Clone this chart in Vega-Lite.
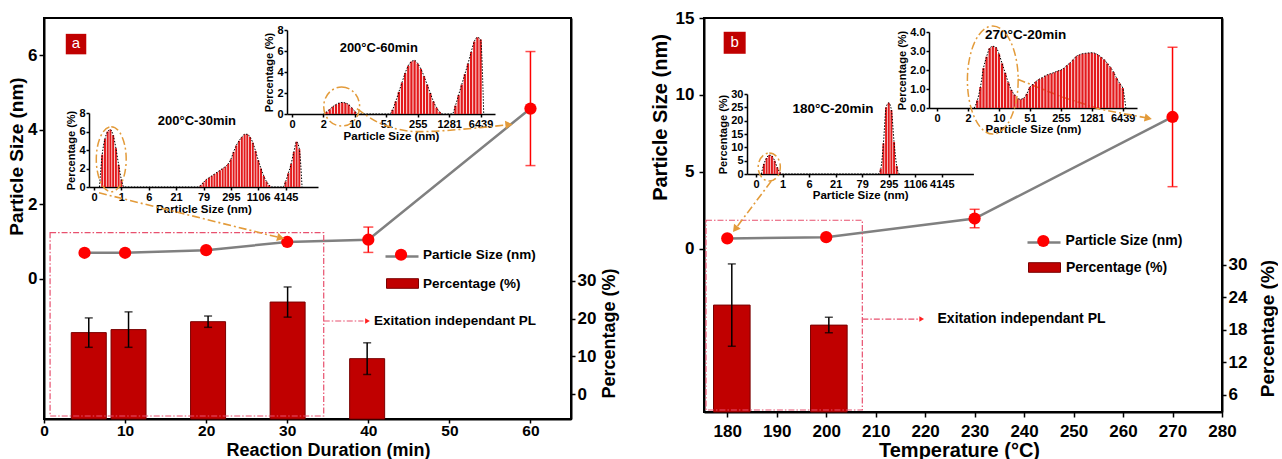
{
  "$schema": "https://vega.github.io/schema/vega-lite/v6.json",
  "background": "white",
  "padding": {"left": 6, "top": 8, "right": 0, "bottom": 0},
  "spacing": 133,
  "bounds": "flush",
  "config": {
    "font": "Liberation Sans",
    "view": {"stroke": "black", "strokeWidth": 2},
    "axis": {
      "labelFont": "Liberation Sans", "titleFont": "Liberation Sans",
      "labelFontWeight": "bold", "titleFontWeight": "bold",
      "labelColor": "black", "titleColor": "black",
      "domainColor": "black", "tickColor": "black",
      "domainWidth": 2, "tickWidth": 1.5, "grid": false,
      "labelFlush": false, "labelOverlap": false
    },
    "legend": {
      "labelFont": "Liberation Sans", "labelFontWeight": "bold", "labelColor": "black",
      "padding": 0, "orient": "none"
    },
    "text": {"font": "Liberation Sans"}
  },
  "resolve": {"scale": {"color": "independent", "fill": "independent", "stroke": "independent"}},
  "datasets": {
    "timeSize": [
      {"time": 5, "size": 0.70, "err": 0.04},
      {"time": 10, "size": 0.70, "err": 0.04},
      {"time": 20, "size": 0.77, "err": 0.04},
      {"time": 30, "size": 0.99, "err": 0.05},
      {"time": 40, "size": 1.05, "err": 0.34},
      {"time": 60, "size": 4.57, "err": 1.53}
    ],
    "timePct": [
      {"time": 5, "pct": 16.3, "err": 3.9},
      {"time": 10, "pct": 17.1, "err": 4.7},
      {"time": 20, "pct": 19.2, "err": 1.5},
      {"time": 30, "pct": 24.4, "err": 4.0},
      {"time": 40, "pct": 9.4, "err": 4.2}
    ],
    "tempSize": [
      {"temp": 180, "size": 0.68, "err": 0.05},
      {"temp": 200, "size": 0.76, "err": 0.05},
      {"temp": 230, "size": 1.97, "err": 0.6},
      {"temp": 270, "size": 8.57, "err": 4.53}
    ],
    "tempPct": [
      {"temp": 180, "pct": 22.6, "err": 7.6},
      {"temp": 200, "pct": 18.9, "err": 1.43}
    ],
    "arrowsA": [
      {"path": "30min", "step": 1, "time": 6.78, "size": 2.31},
      {"path": "30min", "step": 2, "time": 29.2, "size": 1.10},
      {"path": "60min", "step": 1, "time": 38.6, "size": 4.57},
      {"path": "60min", "step": 2, "time": 41.3, "size": 4.19},
      {"path": "60min", "step": 3, "time": 46.25, "size": 3.95},
      {"path": "60min", "step": 4, "time": 52.4, "size": 4.03},
      {"path": "60min", "step": 5, "time": 57.35, "size": 4.14}
    ],
    "arrowsB": [
      {"path": "180C", "step": 1, "temp": 188.9, "size": 4.40},
      {"path": "180C", "step": 2, "temp": 181.6, "size": 1.28},
      {"path": "270C", "step": 1, "temp": 238.7, "size": 11.02},
      {"path": "270C", "step": 2, "temp": 247.25, "size": 9.92},
      {"path": "270C", "step": 3, "temp": 255.4, "size": 9.07},
      {"path": "270C", "step": 4, "temp": 265.1, "size": 8.49}
    ],
    "dls30": [
      {"bin": 0.2, "pct": 0}, {"bin": 0.3, "pct": 3.5}, {"bin": 0.4, "pct": 5.2}, {"bin": 0.5, "pct": 6.0},
      {"bin": 0.6, "pct": 6.2}, {"bin": 0.7, "pct": 5.6}, {"bin": 0.8, "pct": 4.2}, {"bin": 0.9, "pct": 2.4},
      {"bin": 1.0, "pct": 0.8}, {"bin": 1.1, "pct": 0},
      {"bin": 3.8, "pct": 0}, {"bin": 3.9, "pct": 0.2}, {"bin": 4.0, "pct": 0.5}, {"bin": 4.1, "pct": 0.8},
      {"bin": 4.2, "pct": 1.0}, {"bin": 4.3, "pct": 1.2}, {"bin": 4.4, "pct": 1.4}, {"bin": 4.5, "pct": 1.6},
      {"bin": 4.6, "pct": 1.8}, {"bin": 4.7, "pct": 2.0}, {"bin": 4.8, "pct": 2.2}, {"bin": 4.9, "pct": 2.5},
      {"bin": 5.0, "pct": 3.0}, {"bin": 5.1, "pct": 3.8}, {"bin": 5.2, "pct": 4.5}, {"bin": 5.3, "pct": 5.0},
      {"bin": 5.4, "pct": 5.4}, {"bin": 5.5, "pct": 5.7}, {"bin": 5.6, "pct": 5.7}, {"bin": 5.7, "pct": 5.4},
      {"bin": 5.8, "pct": 4.8}, {"bin": 5.9, "pct": 3.9}, {"bin": 6.0, "pct": 2.9}, {"bin": 6.1, "pct": 2.0},
      {"bin": 6.2, "pct": 1.2}, {"bin": 6.3, "pct": 0.6}, {"bin": 6.4, "pct": 0.2}, {"bin": 6.5, "pct": 0},
      {"bin": 6.9, "pct": 0}, {"bin": 7.0, "pct": 0.6}, {"bin": 7.1, "pct": 1.5}, {"bin": 7.2, "pct": 2.5},
      {"bin": 7.3, "pct": 3.8}, {"bin": 7.4, "pct": 4.9}, {"bin": 7.5, "pct": 4.1}, {"bin": 7.6, "pct": 0}
    ],
    "dls60": [
      {"bin": 1.0, "pct": 0}, {"bin": 1.1, "pct": 0.2}, {"bin": 1.2, "pct": 0.45}, {"bin": 1.3, "pct": 0.7},
      {"bin": 1.4, "pct": 0.9}, {"bin": 1.5, "pct": 1.05}, {"bin": 1.6, "pct": 1.1}, {"bin": 1.7, "pct": 1.05},
      {"bin": 1.8, "pct": 0.9}, {"bin": 1.9, "pct": 0.6}, {"bin": 2.0, "pct": 0.25}, {"bin": 2.1, "pct": 0},
      {"bin": 3.1, "pct": 0}, {"bin": 3.2, "pct": 0.4}, {"bin": 3.3, "pct": 1.2}, {"bin": 3.4, "pct": 2.1},
      {"bin": 3.5, "pct": 3.0}, {"bin": 3.6, "pct": 3.9}, {"bin": 3.7, "pct": 4.6}, {"bin": 3.8, "pct": 5.0},
      {"bin": 3.9, "pct": 5.1}, {"bin": 4.0, "pct": 4.8}, {"bin": 4.1, "pct": 4.3}, {"bin": 4.2, "pct": 3.6},
      {"bin": 4.3, "pct": 2.8}, {"bin": 4.4, "pct": 2.0}, {"bin": 4.5, "pct": 1.2}, {"bin": 4.6, "pct": 0.6},
      {"bin": 4.7, "pct": 0.2}, {"bin": 4.8, "pct": 0},
      {"bin": 5.1, "pct": 0}, {"bin": 5.2, "pct": 0.8}, {"bin": 5.3, "pct": 1.8}, {"bin": 5.4, "pct": 2.8},
      {"bin": 5.5, "pct": 3.8}, {"bin": 5.6, "pct": 4.8}, {"bin": 5.7, "pct": 5.9}, {"bin": 5.8, "pct": 6.9},
      {"bin": 5.9, "pct": 7.3}, {"bin": 6.0, "pct": 7.1}, {"bin": 6.1, "pct": 0}
    ],
    "dls180": [
      {"bin": 0.2, "pct": 0}, {"bin": 0.3, "pct": 3.8}, {"bin": 0.4, "pct": 6.0}, {"bin": 0.5, "pct": 7.1},
      {"bin": 0.6, "pct": 6.8}, {"bin": 0.7, "pct": 5.0}, {"bin": 0.8, "pct": 2.5}, {"bin": 0.9, "pct": 0.6},
      {"bin": 1.0, "pct": 0},
      {"bin": 4.6, "pct": 0}, {"bin": 4.7, "pct": 2.0}, {"bin": 4.8, "pct": 11.5}, {"bin": 4.9, "pct": 25.0},
      {"bin": 5.0, "pct": 26.7}, {"bin": 5.1, "pct": 24.0}, {"bin": 5.2, "pct": 12.0}, {"bin": 5.3, "pct": 3.0},
      {"bin": 5.4, "pct": 0}
    ],
    "dls270": [
      {"bin": 1.2, "pct": 0}, {"bin": 1.3, "pct": 0.4}, {"bin": 1.4, "pct": 1.1}, {"bin": 1.5, "pct": 2.1},
      {"bin": 1.6, "pct": 2.7}, {"bin": 1.7, "pct": 3.15}, {"bin": 1.8, "pct": 3.25}, {"bin": 1.9, "pct": 3.2},
      {"bin": 2.0, "pct": 2.85}, {"bin": 2.1, "pct": 2.35}, {"bin": 2.2, "pct": 1.85}, {"bin": 2.3, "pct": 1.35},
      {"bin": 2.4, "pct": 0.95}, {"bin": 2.5, "pct": 0.7}, {"bin": 2.6, "pct": 0.5}, {"bin": 2.7, "pct": 0.46},
      {"bin": 2.8, "pct": 0.52}, {"bin": 2.9, "pct": 0.75}, {"bin": 3.0, "pct": 1.1}, {"bin": 3.1, "pct": 1.25},
      {"bin": 3.2, "pct": 1.4}, {"bin": 3.3, "pct": 1.52}, {"bin": 3.4, "pct": 1.6}, {"bin": 3.5, "pct": 1.7},
      {"bin": 3.6, "pct": 1.77}, {"bin": 3.7, "pct": 1.82}, {"bin": 3.8, "pct": 1.88}, {"bin": 3.9, "pct": 1.95},
      {"bin": 4.0, "pct": 2.0}, {"bin": 4.1, "pct": 2.1}, {"bin": 4.2, "pct": 2.25}, {"bin": 4.3, "pct": 2.38},
      {"bin": 4.4, "pct": 2.55}, {"bin": 4.5, "pct": 2.72}, {"bin": 4.6, "pct": 2.8}, {"bin": 4.7, "pct": 2.86},
      {"bin": 4.8, "pct": 2.88}, {"bin": 4.9, "pct": 2.9}, {"bin": 5.0, "pct": 2.91}, {"bin": 5.1, "pct": 2.88},
      {"bin": 5.2, "pct": 2.8}, {"bin": 5.3, "pct": 2.68}, {"bin": 5.4, "pct": 2.55}, {"bin": 5.5, "pct": 2.35},
      {"bin": 5.6, "pct": 2.15}, {"bin": 5.7, "pct": 1.9}, {"bin": 5.8, "pct": 1.58}, {"bin": 5.9, "pct": 1.3},
      {"bin": 6.0, "pct": 1.05}, {"bin": 6.1, "pct": 0}
    ]
  },
  "hconcat": [
    {
      "width": 527,
      "height": 401,
      "resolve": {"scale": {"x": "independent", "y": "independent"}},
      "layer": [
        {
          "data": {"name": "timePct"},
          "layer": [
            {
              "mark": {"type": "bar", "size": 35, "stroke": "#7a0000", "strokeWidth": 1},
              "encoding": {
                "x": {"field": "time", "type": "quantitative", "title": "Reaction Duration (min)", "scale": {"domain": [0, 65], "nice": false, "zero": false}, "axis": null},
                "y": {"field": "pct", "type": "quantitative", "title": "Percentage (%)", "scale": {"domain": [-6.6, 99.7], "nice": false, "zero": false},
                  "axis": {"orient": "right", "values": [0, 10, 20, 30], "labelFontSize": 17, "titleFontSize": 18, "tickSize": 4, "labelPadding": 2, "titleX": 38, "titleY": 315, "titleAngle": 270, "titleBaseline": "middle", "titleAlign": "center"}},
                "y2": {"datum": -6.6},
                "fill": {"datum": "Percentage (%)", "type": "nominal", "scale": {"range": ["#C00000"]},
                  "legend": {"title": null, "legendX": 342, "legendY": 249, "symbolType": "M-1,-0.3H1V0.3H-1Z", "symbolSize": 1024, "symbolStrokeColor": "#7a0000", "symbolStrokeWidth": 1, "labelFontSize": 13.5, "labelOffset": 4}}
              }
            },
            {
              "mark": {"type": "errorbar", "color": "black", "thickness": 1.5, "ticks": {"size": 8}},
              "encoding": {
                "x": {"field": "time", "type": "quantitative", "title": "Reaction Duration (min)"},
                "y": {"field": "pct", "type": "quantitative", "title": "Percentage (%)"},
                "yError": {"field": "err"}
              }
            }
          ]
        },
        {
          "data": {"name": "timeSize"},
          "layer": [
            {
              "mark": {"type": "line", "strokeWidth": 2.5},
              "encoding": {
                "x": {"field": "time", "type": "quantitative", "title": "Reaction Duration (min)", "scale": {"domain": [0, 65], "nice": false, "zero": false},
                  "axis": {"orient": "bottom", "values": [0, 10, 20, 30, 40, 50, 60], "labelFontSize": 15.5, "titleFontSize": 18, "tickSize": 4, "labelPadding": 0, "titleX": 284, "titleY": 31, "titleBaseline": "middle", "titleAlign": "center"}},
                "y": {"field": "size", "type": "quantitative", "title": "Particle Size (nm)", "scale": {"domain": [-3.76, 7], "nice": false, "zero": false},
                  "axis": {"orient": "left", "values": [0, 2, 4, 6], "labelFontSize": 17, "titleFontSize": 19, "tickSize": 5, "labelPadding": 2, "titleX": -28, "titleY": 138, "titleAngle": 270, "titleBaseline": "middle", "titleAlign": "center"}},
                "stroke": {"datum": "trend", "type": "nominal", "scale": {"range": ["#808080"]},
                  "legend": {"title": null, "legendX": 340, "legendY": 220.5, "symbolType": "stroke", "symbolSize": 1089, "symbolStrokeWidth": 2.5, "labelExpr": "''", "labelFontSize": 13.5}}
              }
            },
            {
              "data": {"values": [{}]},
              "mark": {"type": "rect", "fill": "transparent", "stroke": "#E8506E", "strokeWidth": 1.2, "strokeDash": [6, 2, 1.5, 2]},
              "encoding": {
                "x": {"datum": 0.75, "type": "quantitative"}, "x2": {"datum": 34.5},
                "y": {"datum": -3.68, "type": "quantitative"}, "y2": {"datum": 1.24}
              }
            },
            {
              "mark": {"type": "errorbar", "color": "#FF0000", "thickness": 1.5, "ticks": {"size": 10}},
              "encoding": {
                "x": {"field": "time", "type": "quantitative", "title": "Reaction Duration (min)"},
                "y": {"field": "size", "type": "quantitative", "title": "Particle Size (nm)"},
                "yError": {"field": "err"}
              }
            },
            {
              "mark": {"type": "circle", "size": 150, "opacity": 1},
              "encoding": {
                "x": {"field": "time", "type": "quantitative", "title": "Reaction Duration (min)"},
                "y": {"field": "size", "type": "quantitative", "title": "Particle Size (nm)"},
                "color": {"datum": "Particle Size (nm)", "type": "nominal", "scale": {"range": ["#FF0000"]},
                  "legend": {"title": null, "legendX": 350.3, "legendY": 230, "symbolType": "circle", "symbolSize": 150, "symbolOpacity": 1, "symbolStrokeWidth": 0, "labelFontSize": 13.5, "labelOffset": 15.3}}
              }
            },
            {
              "data": {"values": [{}]},
              "mark": {"type": "rule", "stroke": "#E8506E", "strokeWidth": 1.2, "strokeDash": [6, 2, 1.5, 2]},
              "encoding": {
                "x": {"datum": 34.5, "type": "quantitative"}, "x2": {"datum": 39.4},
                "y": {"datum": -1.13, "type": "quantitative"}
              }
            },
            {
              "data": {"values": [{}]},
              "mark": {"type": "point", "shape": "triangle-right", "size": 30, "filled": true, "fill": "#FF2020", "opacity": 1},
              "encoding": {"x": {"datum": 39.9, "type": "quantitative"}, "y": {"datum": -1.13, "type": "quantitative"}}
            },
            {
              "data": {"values": [{"note": "Exitation independant PL"}]},
              "mark": {"type": "text", "align": "left", "baseline": "middle", "fontSize": 13.5, "fontWeight": "bold", "color": "black"},
              "encoding": {"x": {"datum": 40.7, "type": "quantitative"}, "y": {"datum": -1.13, "type": "quantitative"}, "text": {"field": "note"}}
            },
            {
              "data": {"values": [{"panel": "a"}]},
              "layer": [
                {
                  "mark": {"type": "point", "shape": "square", "size": 420, "filled": true, "fill": "#C00000", "opacity": 1},
                  "encoding": {"x": {"datum": 3.95, "type": "quantitative"}, "y": {"datum": 6.30, "type": "quantitative"}}
                },
                {
                  "mark": {"type": "text", "fontSize": 15, "color": "white", "baseline": "middle", "align": "center", "dy": -1},
                  "encoding": {"x": {"datum": 3.95, "type": "quantitative"}, "y": {"datum": 6.30, "type": "quantitative"}, "text": {"field": "panel"}}
                }
              ]
            },
            {
              "data": {"name": "arrowsA"},
              "mark": {"type": "line", "stroke": "#E39B3A", "strokeWidth": 1.6, "strokeDash": [8, 3, 2, 3], "interpolate": "monotone"},
              "encoding": {
                "x": {"field": "time", "type": "quantitative", "title": "Reaction Duration (min)"},
                "y": {"field": "size", "type": "quantitative", "title": "Particle Size (nm)"},
                "detail": {"field": "path"},
                "order": {"field": "step"}
              }
            },
            {
              "data": {"values": [{}]},
              "mark": {"type": "point", "shape": "triangle-right", "size": 70, "filled": true, "fill": "#E39B3A", "opacity": 1, "angle": 14},
              "encoding": {"x": {"datum": 29.2, "type": "quantitative"}, "y": {"datum": 1.10, "type": "quantitative"}}
            },
            {
              "data": {"values": [{}]},
              "mark": {"type": "point", "shape": "triangle-right", "size": 70, "filled": true, "fill": "#E39B3A", "opacity": 1, "angle": -6},
              "encoding": {"x": {"datum": 57.35, "type": "quantitative"}, "y": {"datum": 4.14, "type": "quantitative"}}
            }
          ]
        },
        {
          "data": {"name": "dls30"},
          "layer": [
            {
              "mark": {"type": "bar", "size": 2, "fill": "#E31A1C"},
              "encoding": {
                "x": {"field": "bin", "type": "quantitative", "title": "Particle Size (nm)", "scale": {"domain": [0, 8], "range": [45, 274], "nice": false, "zero": false},
                  "axis": {"orient": "bottom", "offset": -232, "values": [0, 1, 2, 3, 4, 5, 6, 7], "labelExpr": "['0','1','6','21','79','295','1106','4145'][datum.value]", "labelFontSize": 11, "titleFontSize": 11.5, "tickSize": 3, "domainWidth": 1.5, "labelPadding": 1, "titlePadding": 1}},
                "y": {"field": "pct", "type": "quantitative", "title": "Percentage (%)", "scale": {"domain": [0, 8], "range": [169, 95], "nice": false},
                  "axis": {"orient": "left", "offset": -45, "values": [0, 2, 4, 6, 8], "labelFontSize": 11, "titleFontSize": 11, "tickSize": 3, "domainWidth": 1.5, "labelPadding": 1, "titlePadding": 2}}
              }
            },
            {
              "mark": {"type": "line", "stroke": "black", "strokeWidth": 1, "strokeDash": [1.5, 1.5], "interpolate": "monotone"},
              "encoding": {"x": {"field": "bin", "type": "quantitative", "title": "Particle Size (nm)"}, "y": {"field": "pct", "type": "quantitative", "title": "Percentage (%)"}}
            },
            {
              "data": {"values": [{"label": "200°C-30min"}]},
              "mark": {"type": "text", "fontSize": 13, "fontWeight": "bold", "color": "black", "baseline": "middle"},
              "encoding": {"x": {"datum": 3.76, "type": "quantitative"}, "y": {"datum": 7.14, "type": "quantitative"}, "text": {"field": "label"}}
            },
            {
              "data": {"values": [{}]},
              "mark": {"type": "point", "shape": "M0,-1A0.46,1,0,1,1,0,1A0.46,1,0,1,1,0,-1Z", "size": 4225, "filled": false, "stroke": "#E39B3A", "strokeWidth": 1.5, "strokeDash": [8, 3, 2, 3], "opacity": 1},
              "encoding": {"x": {"datum": 0.63, "type": "quantitative"}, "y": {"datum": 3.0, "type": "quantitative"}}
            }
          ]
        },
        {
          "data": {"name": "dls60"},
          "layer": [
            {
              "mark": {"type": "bar", "size": 2.3, "fill": "#E31A1C"},
              "encoding": {
                "x": {"field": "bin", "type": "quantitative", "title": "Particle Size (nm)", "scale": {"domain": [0, 6.3], "range": [243, 451], "nice": false, "zero": false},
                  "axis": {"orient": "bottom", "offset": -305, "values": [0, 1, 2, 3, 4, 5, 6], "labelExpr": "['0','2','10','51','255','1281','6439'][datum.value]", "labelFontSize": 11, "titleFontSize": 11.5, "tickSize": 3, "domainWidth": 1.5, "labelPadding": 1, "titlePadding": 1}},
                "y": {"field": "pct", "type": "quantitative", "title": "Percentage (%)", "scale": {"domain": [0, 8], "range": [96, 12], "nice": false},
                  "axis": {"orient": "left", "offset": -243, "values": [0, 2, 4, 6, 8], "labelFontSize": 11, "titleFontSize": 11, "tickSize": 3, "domainWidth": 1.5, "labelPadding": 1, "titlePadding": 2}}
              }
            },
            {
              "mark": {"type": "line", "stroke": "black", "strokeWidth": 1, "strokeDash": [1.5, 1.5], "interpolate": "monotone"},
              "encoding": {"x": {"field": "bin", "type": "quantitative", "title": "Particle Size (nm)"}, "y": {"field": "pct", "type": "quantitative", "title": "Percentage (%)"}}
            },
            {
              "data": {"values": [{"label": "200°C-60min"}]},
              "mark": {"type": "text", "fontSize": 13, "fontWeight": "bold", "color": "black", "baseline": "middle"},
              "encoding": {"x": {"datum": 2.76, "type": "quantitative"}, "y": {"datum": 6.29, "type": "quantitative"}, "text": {"field": "label"}}
            },
            {
              "data": {"values": [{}]},
              "mark": {"type": "point", "shape": "M0,-1A0.92,1,0,1,1,0,1A0.92,1,0,1,1,0,-1Z", "size": 1521, "filled": false, "stroke": "#E39B3A", "strokeWidth": 1.5, "strokeDash": [8, 3, 2, 3], "opacity": 1},
              "encoding": {"x": {"datum": 1.58, "type": "quantitative"}, "y": {"datum": 0.71, "type": "quantitative"}}
            }
          ]
        }
      ]
    },
    {
      "width": 518,
      "height": 394,
      "resolve": {"scale": {"x": "independent", "y": "independent"}},
      "layer": [
        {
          "data": {"name": "tempPct"},
          "layer": [
            {
              "mark": {"type": "bar", "size": 36.6, "stroke": "#7a0000", "strokeWidth": 1},
              "encoding": {
                "x": {"field": "temp", "type": "quantitative", "title": "Temperature (°C)", "scale": {"domain": [175.3, 280], "nice": false, "zero": false}, "axis": null},
                "y": {"field": "pct", "type": "quantitative", "title": "Percentage (%)", "scale": {"domain": [2.86, 75.6], "nice": false, "zero": false},
                  "axis": {"orient": "right", "values": [6, 12, 18, 24, 30], "labelFontSize": 17, "titleFontSize": 19, "tickSize": 4, "labelPadding": 2, "titleX": 45, "titleY": 310, "titleAngle": 270, "titleBaseline": "middle", "titleAlign": "center"}},
                "y2": {"datum": 2.86},
                "fill": {"datum": "Percentage (%)", "type": "nominal", "scale": {"range": ["#C00000"]},
                  "legend": {"title": null, "legendX": 324, "legendY": 233, "symbolType": "M-1,-0.3H1V0.3H-1Z", "symbolSize": 1024, "symbolStrokeColor": "#7a0000", "symbolStrokeWidth": 1, "labelFontSize": 14, "labelOffset": 5}}
              }
            },
            {
              "mark": {"type": "errorbar", "color": "black", "thickness": 1.5, "ticks": {"size": 8}},
              "encoding": {
                "x": {"field": "temp", "type": "quantitative", "title": "Temperature (°C)"},
                "y": {"field": "pct", "type": "quantitative", "title": "Percentage (%)"},
                "yError": {"field": "err"}
              }
            }
          ]
        },
        {
          "data": {"name": "tempSize"},
          "layer": [
            {
              "mark": {"type": "line", "strokeWidth": 2.5},
              "encoding": {
                "x": {"field": "temp", "type": "quantitative", "title": "Temperature (°C)", "scale": {"domain": [175.3, 280], "nice": false, "zero": false},
                  "axis": {"orient": "bottom", "values": [180, 190, 200, 210, 220, 230, 240, 250, 260, 270, 280], "labelFontSize": 17, "titleFontSize": 20, "tickSize": 5, "labelPadding": 6, "titleX": 255, "titleY": 38, "titleBaseline": "middle", "titleAlign": "center"}},
                "y": {"field": "size", "type": "quantitative", "title": "Particle Size (nm)", "scale": {"domain": [-10.6, 15], "nice": false, "zero": false},
                  "axis": {"orient": "left", "values": [0, 5, 10, 15], "labelFontSize": 17, "titleFontSize": 20, "tickSize": 5, "labelPadding": 5, "titleX": -44, "titleY": 99, "titleAngle": 270, "titleBaseline": "middle", "titleAlign": "center"}},
                "stroke": {"datum": "trend", "type": "nominal", "scale": {"range": ["#808080"]},
                  "legend": {"title": null, "legendX": 322, "legendY": 206.5, "symbolType": "stroke", "symbolSize": 1089, "symbolStrokeWidth": 2.5, "labelExpr": "''", "labelFontSize": 14}}
              }
            },
            {
              "data": {"values": [{}]},
              "mark": {"type": "rect", "fill": "transparent", "stroke": "#E8506E", "strokeWidth": 1.2, "strokeDash": [6, 2, 1.5, 2]},
              "encoding": {
                "x": {"datum": 175.7, "type": "quantitative"}, "x2": {"datum": 207.3},
                "y": {"datum": -10.47, "type": "quantitative"}, "y2": {"datum": 1.86}
              }
            },
            {
              "mark": {"type": "errorbar", "color": "#FF0000", "thickness": 1.5, "ticks": {"size": 10}},
              "encoding": {
                "x": {"field": "temp", "type": "quantitative", "title": "Temperature (°C)"},
                "y": {"field": "size", "type": "quantitative", "title": "Particle Size (nm)"},
                "yError": {"field": "err"}
              }
            },
            {
              "mark": {"type": "circle", "size": 150, "opacity": 1},
              "encoding": {
                "x": {"field": "temp", "type": "quantitative", "title": "Temperature (°C)"},
                "y": {"field": "size", "type": "quantitative", "title": "Particle Size (nm)"},
                "color": {"datum": "Particle Size (nm)", "type": "nominal", "scale": {"range": ["#FF0000"]},
                  "legend": {"title": null, "legendX": 332.3, "legendY": 216, "symbolType": "circle", "symbolSize": 150, "symbolOpacity": 1, "symbolStrokeWidth": 0, "labelFontSize": 14, "labelOffset": 15.3}}
              }
            },
            {
              "data": {"values": [{}]},
              "mark": {"type": "rule", "stroke": "#E8506E", "strokeWidth": 1.2, "strokeDash": [6, 2, 1.5, 2]},
              "encoding": {
                "x": {"datum": 207.3, "type": "quantitative"}, "x2": {"datum": 218.6},
                "y": {"datum": -4.56, "type": "quantitative"}
              }
            },
            {
              "data": {"values": [{}]},
              "mark": {"type": "point", "shape": "triangle-right", "size": 30, "filled": true, "fill": "#FF2020", "opacity": 1},
              "encoding": {"x": {"datum": 219.3, "type": "quantitative"}, "y": {"datum": -4.56, "type": "quantitative"}}
            },
            {
              "data": {"values": [{"note": "Exitation independant PL"}]},
              "mark": {"type": "text", "align": "left", "baseline": "middle", "fontSize": 14, "fontWeight": "bold", "color": "black"},
              "encoding": {"x": {"datum": 222.5, "type": "quantitative"}, "y": {"datum": -4.56, "type": "quantitative"}, "text": {"field": "note"}}
            },
            {
              "data": {"values": [{"panel": "b"}]},
              "layer": [
                {
                  "mark": {"type": "point", "shape": "square", "size": 484, "filled": true, "fill": "#C00000", "opacity": 1},
                  "encoding": {"x": {"datum": 181.5, "type": "quantitative"}, "y": {"datum": 13.39, "type": "quantitative"}}
                },
                {
                  "mark": {"type": "text", "fontSize": 15, "color": "white", "baseline": "middle", "align": "center", "dy": -1},
                  "encoding": {"x": {"datum": 181.5, "type": "quantitative"}, "y": {"datum": 13.39, "type": "quantitative"}, "text": {"field": "panel"}}
                }
              ]
            },
            {
              "data": {"name": "arrowsB"},
              "mark": {"type": "line", "stroke": "#E39B3A", "strokeWidth": 1.6, "strokeDash": [8, 3, 2, 3], "interpolate": "linear"},
              "encoding": {
                "x": {"field": "temp", "type": "quantitative", "title": "Temperature (°C)"},
                "y": {"field": "size", "type": "quantitative", "title": "Particle Size (nm)"},
                "detail": {"field": "path"},
                "order": {"field": "step"}
              }
            },
            {
              "data": {"values": [{}]},
              "mark": {"type": "point", "shape": "triangle-right", "size": 70, "filled": true, "fill": "#E39B3A", "opacity": 1, "angle": 127},
              "encoding": {"x": {"datum": 181.6, "type": "quantitative"}, "y": {"datum": 1.28, "type": "quantitative"}}
            },
            {
              "data": {"values": [{}]},
              "mark": {"type": "point", "shape": "triangle-right", "size": 70, "filled": true, "fill": "#E39B3A", "opacity": 1, "angle": 11},
              "encoding": {"x": {"datum": 265.1, "type": "quantitative"}, "y": {"datum": 8.49, "type": "quantitative"}}
            }
          ]
        },
        {
          "data": {"name": "dls180"},
          "layer": [
            {
              "mark": {"type": "bar", "size": 2, "fill": "#E31A1C"},
              "encoding": {
                "x": {"field": "bin", "type": "quantitative", "title": "Particle Size (nm)", "scale": {"domain": [-0.15, 8], "range": [43, 269.4], "nice": false, "zero": false},
                  "axis": {"orient": "bottom", "offset": -238, "values": [0, 1, 2, 3, 4, 5, 6, 7], "labelExpr": "['0','1','6','21','79','295','1106','4145'][datum.value]", "labelFontSize": 11, "titleFontSize": 11.5, "tickSize": 3, "domainWidth": 1.5, "labelPadding": 1, "titlePadding": 0}},
                "y": {"field": "pct", "type": "quantitative", "title": "Percentage (%)", "scale": {"domain": [0, 30], "range": [156, 76], "nice": false},
                  "axis": {"orient": "left", "offset": -43, "values": [0, 5, 10, 15, 20, 25, 30], "labelFontSize": 11, "titleFontSize": 11, "tickSize": 3, "domainWidth": 1.5, "labelPadding": 1, "titlePadding": 2}}
              }
            },
            {
              "mark": {"type": "line", "stroke": "black", "strokeWidth": 1, "strokeDash": [1.5, 1.5], "interpolate": "monotone"},
              "encoding": {"x": {"field": "bin", "type": "quantitative", "title": "Particle Size (nm)"}, "y": {"field": "pct", "type": "quantitative", "title": "Percentage (%)"}}
            },
            {
              "data": {"values": [{"label": "180°C-20min"}]},
              "mark": {"type": "text", "fontSize": 13.5, "fontWeight": "bold", "color": "black", "baseline": "middle"},
              "encoding": {"x": {"datum": 2.9, "type": "quantitative"}, "y": {"datum": 24.4, "type": "quantitative"}, "text": {"field": "label"}}
            },
            {
              "data": {"values": [{}]},
              "mark": {"type": "point", "shape": "M0,-1A0.79,1,0,1,1,0,1A0.79,1,0,1,1,0,-1Z", "size": 784, "filled": false, "stroke": "#E39B3A", "strokeWidth": 1.5, "strokeDash": [8, 3, 2, 3], "opacity": 1},
              "encoding": {"x": {"datum": 0.5, "type": "quantitative"}, "y": {"datum": 2.6, "type": "quantitative"}}
            }
          ]
        },
        {
          "data": {"name": "dls270"},
          "layer": [
            {
              "mark": {"type": "bar", "size": 2.3, "fill": "#E31A1C"},
              "encoding": {
                "x": {"field": "bin", "type": "quantitative", "title": "Particle Size (nm)", "scale": {"domain": [-0.1, 6.3], "range": [225, 433], "nice": false, "zero": false},
                  "axis": {"orient": "bottom", "offset": -304, "values": [0, 1, 2, 3, 4, 5, 6], "labelExpr": "['0','2','10','51','255','1281','6439'][datum.value]", "labelFontSize": 11, "titleFontSize": 11.5, "tickSize": 3, "domainWidth": 1.5, "labelPadding": 1, "titlePadding": 0}},
                "y": {"field": "pct", "type": "quantitative", "title": "Percentage (%)", "scale": {"domain": [0, 4], "range": [90, 14], "nice": false},
                  "axis": {"orient": "left", "offset": -225, "values": [0, 1, 2, 3, 4], "labelFontSize": 11, "titleFontSize": 11, "tickSize": 3, "domainWidth": 1.5, "labelPadding": 1, "titlePadding": 2}}
              }
            },
            {
              "mark": {"type": "line", "stroke": "black", "strokeWidth": 1, "strokeDash": [1.5, 1.5], "interpolate": "monotone"},
              "encoding": {"x": {"field": "bin", "type": "quantitative", "title": "Particle Size (nm)"}, "y": {"field": "pct", "type": "quantitative", "title": "Percentage (%)"}}
            },
            {
              "data": {"values": [{"label": "270°C-20min"}]},
              "mark": {"type": "text", "fontSize": 13.5, "fontWeight": "bold", "color": "black", "baseline": "middle"},
              "encoding": {"x": {"datum": 2.86, "type": "quantitative"}, "y": {"datum": 3.84, "type": "quantitative"}, "text": {"field": "label"}}
            },
            {
              "data": {"values": [{}]},
              "mark": {"type": "point", "shape": "M0,-1A0.47,1,0,1,1,0,1A0.47,1,0,1,1,0,-1Z", "size": 11664, "filled": false, "stroke": "#E39B3A", "strokeWidth": 1.5, "strokeDash": [8, 3, 2, 3], "opacity": 1},
              "encoding": {"x": {"datum": 1.8, "type": "quantitative"}, "y": {"datum": 1.47, "type": "quantitative"}}
            }
          ]
        }
      ]
    }
  ]
}
